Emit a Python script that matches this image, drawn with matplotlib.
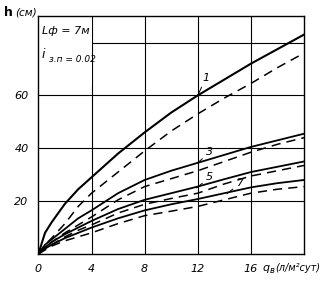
import matplotlib
matplotlib.use('Agg')
import matplotlib.pyplot as plt
from matplotlib.patches import Rectangle

# discharge q (l/m2 per day) and water rise h (cm)
q = [0, 0.5, 1, 2, 3, 4, 6, 8, 10, 12, 14, 16, 18, 20]

h1_solid = [0, 8, 12, 19, 24.5, 29, 38, 46, 53.5, 60, 66, 72, 77.5, 83]
h1_dash = [0, 3.5, 6, 11.5, 18, 23, 31, 39, 46.5, 53, 59, 64.5, 70.5, 76]
h3_solid = [0, 3.5, 5.5, 9.5, 13.5, 16.5, 23, 28, 31.5, 34.5, 37.5, 40.5, 43, 45.5]
h3_dash = [0, 2.5, 4.5, 8, 11, 14, 20.5, 25.5, 28.5, 31.5, 35, 38.5, 41.5, 44]
h5_solid = [0, 2.5, 4.5, 7.5, 10, 12.5, 17, 20.5, 23, 25.5, 28.3, 31, 33, 35]
h5_dash = [0, 2, 3.5, 6.5, 9, 11, 15.5, 18.8, 21, 23, 26.5, 29.5, 31.5, 33.5]
h7_solid = [0, 2, 3.5, 6, 8, 10, 13.5, 16.5, 18.8, 20.8, 23, 25.2, 26.8, 28]
h7_dash = [0, 1.5, 3, 5, 6.5, 8, 11.5, 14.5, 16.2, 18, 20.5, 23, 24.5, 25.5]

x_ticks = [0, 4, 8, 12, 16]
y_ticks = [20, 40, 60]

curve_labels = ['1', '3', '5', '7']
label_at = [(12.0, 60.0), (12.0, 34.5), (11.9, 25.0), (14.2, 22.8)]
label_text = [(12.6, 66.5), (12.9, 38.5), (12.9, 29.0), (15.2, 26.8)]

plt.rcParams['font.family'] = ['DejaVu Sans']

fig = plt.figure(figsize=(3.28, 2.87), dpi=100)
ax = fig.add_axes([0.117, 0.115, 0.81, 0.829])
ax.set_xlim(0, 20)
ax.set_ylim(0, 90)

# grid
for x in x_ticks[1:]:
    ax.axvline(x, color='black', lw=0.8, zorder=1)
for y in y_ticks:
    ax.axhline(y, color='black', lw=0.8, zorder=1)
ax.hlines(80, 4, 20, color='black', lw=0.8, zorder=1)

dash = (0, (6, 4))
ax.plot(q, h1_solid, color='black', lw=1.5, zorder=3)
ax.plot(q, h1_dash, color='black', lw=1.1, ls=dash, zorder=3)
ax.plot(q, h3_solid, color='black', lw=1.3, zorder=3)
ax.plot(q, h3_dash, color='black', lw=1.1, ls=dash, zorder=3)
ax.plot(q, h5_solid, color='black', lw=1.3, zorder=3)
ax.plot(q, h5_dash, color='black', lw=1.1, ls=dash, zorder=3)
ax.plot(q, h7_solid, color='black', lw=1.3, zorder=3)
ax.plot(q, h7_dash, color='black', lw=1.1, ls=dash, zorder=3)

for lab, xy, xt in zip(curve_labels, label_at, label_text):
    ax.annotate(lab, xy=xy, xytext=xt, fontsize=8, style='italic',
                ha='center', va='center', zorder=4,
                arrowprops=dict(arrowstyle='-', lw=0.7, color='black',
                                shrinkA=1, shrinkB=0))

# parameter box in the top-left corner
ax.add_patch(Rectangle((0, 64), 4, 26, facecolor='white', edgecolor='none', zorder=2))
ax.text(0.25, 84.5, 'Lф = 7м', fontsize=8, style='italic', va='center', zorder=4)
ax.text(0.25, 75.5, 'i', fontsize=9, style='italic', va='center', zorder=4)
ax.text(0.8, 73.5, 'з.п = 0.02', fontsize=6.5, style='italic', va='center', zorder=4)

ax.set_xticks(x_ticks)
ax.set_xticklabels([str(v) for v in x_ticks], style='italic', fontsize=8)
ax.set_yticks(y_ticks)
ax.set_yticklabels([str(v) for v in y_ticks], style='italic', fontsize=8)
ax.tick_params(length=0, pad=7)
for s in ax.spines.values():
    s.set_linewidth(1.0)

fig.text(0.012, 0.955, 'h', fontsize=9, fontweight='bold', va='center')
fig.text(0.045, 0.955, '(см)', fontsize=7.5, style='italic', va='center')
ax.text(16.9, -5.2, 'q', fontsize=8, style='italic', va='center', clip_on=False)
ax.text(17.4, -6.2, 'в', fontsize=6, style='italic', va='center', clip_on=False)
ax.text(17.8, -5.2, '(л/м²сут)', fontsize=7, style='italic', va='center', clip_on=False)

fig.savefig('out.png', dpi=100)
